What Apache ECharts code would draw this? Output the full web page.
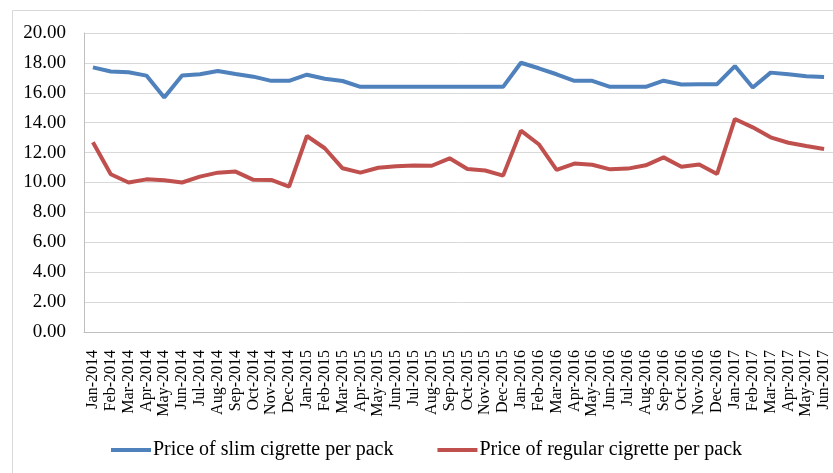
<!DOCTYPE html>
<html>
<head>
<meta charset="utf-8">
<script src="https://cdn.jsdelivr.net/npm/echarts@6/dist/echarts.min.js"></script>
<style>
  html, body { margin: 0; padding: 0; background: #ffffff; }
  #chart { width: 833px; height: 473px; }
</style>
</head>
<body>
<div id="chart"></div>
<script>
// Monthly categories, Jan-2014 through Jun-2017
const months = [
  'Jan-2014','Feb-2014','Mar-2014','Apr-2014','May-2014','Jun-2014','Jul-2014','Aug-2014','Sep-2014','Oct-2014','Nov-2014','Dec-2014',
  'Jan-2015','Feb-2015','Mar-2015','Apr-2015','May-2015','Jun-2015','Jul-2015','Aug-2015','Sep-2015','Oct-2015','Nov-2015','Dec-2015',
  'Jan-2016','Feb-2016','Mar-2016','Apr-2016','May-2016','Jun-2016','Jul-2016','Aug-2016','Sep-2016','Oct-2016','Nov-2016','Dec-2016',
  'Jan-2017','Feb-2017','Mar-2017','Apr-2017','May-2017','Jun-2017'
];

// Price of slim cigarette per pack
const slimPrice = [
  17.70, 17.42, 17.37, 17.15, 15.68, 17.15, 17.24, 17.46, 17.26, 17.08, 16.80, 16.80,
  17.21, 16.94, 16.79, 16.40, 16.40, 16.40, 16.40, 16.40, 16.40, 16.40, 16.40, 16.40,
  18.01, 17.64, 17.24, 16.80, 16.80, 16.40, 16.40, 16.40, 16.81, 16.55, 16.58, 16.58,
  17.79, 16.36, 17.35, 17.24, 17.10, 17.06
];

// Price of regular cigarette per pack
const regularPrice = [
  12.69, 10.55, 10.00, 10.21, 10.15, 10.00, 10.39, 10.66, 10.73, 10.18, 10.17, 9.72,
  13.11, 12.29, 10.95, 10.66, 10.99, 11.08, 11.14, 11.12, 11.62, 10.90, 10.80, 10.46,
  13.47, 12.56, 10.84, 11.27, 11.19, 10.88, 10.93, 11.15, 11.68, 11.06, 11.21, 10.57,
  14.25, 13.69, 13.02, 12.66, 12.44, 12.24
];

// Value axis ticks
const yMin = 0, yMax = 20, yStep = 2;

const serif = "'Liberation Serif', 'Times New Roman', serif";
const chart = echarts.init(document.getElementById('chart'), null, { renderer: 'canvas' });

chart.setOption({
  animation: false,
  backgroundColor: '#ffffff',
  color: ['#4F81BD', '#C0504D'],
  graphic: [{
    type: 'rect',
    shape: { x: 12.5, y: 10.5, width: 900, height: 600 },
    style: { fill: 'none', stroke: '#d9d9d9', lineWidth: 1 },
    silent: true
  }],
  grid: { left: 84, right: -3, top: 33, bottom: 141, containLabel: false },
  legend: {
    left: 106,
    top: 435,
    itemWidth: 40,
    itemHeight: 4,
    itemGap: 44,
    icon: 'rect',
    textStyle: { fontFamily: serif, fontSize: 20, color: '#000000', padding: [0, 0, 0, -3] },
    data: ['Price of slim cigrette per pack', 'Price of regular cigrette per pack']
  },
  xAxis: {
    type: 'category',
    data: months,
    boundaryGap: true,
    axisLine: { show: true, lineStyle: { color: '#bfbfbf', width: 1 } },
    axisTick: { show: false },
    axisLabel: {
      interval: 0,
      rotate: 90,
      margin: 18,
      fontFamily: serif,
      fontSize: 16,
      color: '#000000'
    }
  },
  yAxis: {
    type: 'value',
    min: yMin,
    max: yMax,
    interval: yStep,
    axisLine: { show: true, lineStyle: { color: '#bfbfbf', width: 1 } },
    axisTick: { show: false },
    splitLine: { show: true, lineStyle: { color: '#d9d9d9', width: 1 } },
    axisLabel: {
      margin: 18,
      fontFamily: serif,
      fontSize: 19,
      color: '#000000',
      formatter: v => v.toFixed(2)
    }
  },
  series: [
    {
      name: 'Price of slim cigrette per pack',
      type: 'line',
      data: slimPrice,
      showSymbol: false,
      symbol: 'none',
      lineStyle: { width: 4, color: '#4F81BD' },
      itemStyle: { color: '#4F81BD' }
    },
    {
      name: 'Price of regular cigrette per pack',
      type: 'line',
      data: regularPrice,
      showSymbol: false,
      symbol: 'none',
      lineStyle: { width: 4, color: '#C0504D' },
      itemStyle: { color: '#C0504D' }
    }
  ]
});
</script>
</body>
</html>
